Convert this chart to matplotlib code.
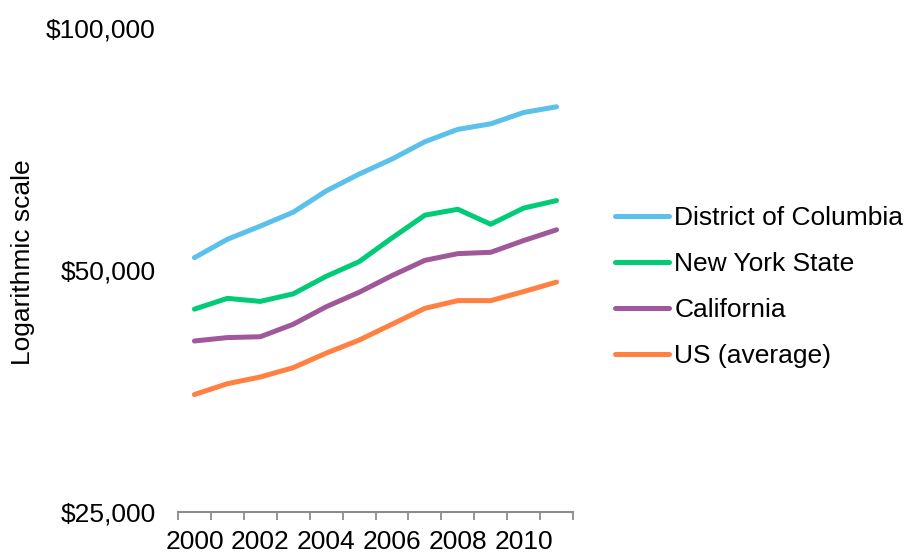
import matplotlib
matplotlib.use("Agg")
import matplotlib.pyplot as plt
from matplotlib.ticker import FixedLocator, NullFormatter

plt.rcParams['font.family'] = ['Liberation Sans', 'DejaVu Sans']

# median household income, nominal dollars
years = list(range(2000, 2012))
dc = [51800, 54600, 56700, 59000, 62700, 65800, 68700, 72200, 74800, 76000, 78500, 79800]
ny = [44700, 46100, 45700, 46700, 49100, 51200, 54800, 58500, 59500, 57000, 59700, 61000]
ca = [40800, 41200, 41300, 42800, 45000, 46900, 49200, 51400, 52400, 52600, 54400, 56100]
us = [35000, 36100, 36800, 37800, 39400, 40900, 42800, 44800, 45800, 45800, 47000, 48300]

series = [
    ("District of Columbia", dc, "#5BC0EA"),
    ("New York State", ny, "#00CC77"),
    ("California", ca, "#A0589A"),
    ("US (average)", us, "#FF8040"),
]

y_ticks = [25000, 50000, 100000]
y_labels = ["$25,000", "$50,000", "$100,000"]

FS = 19

fig = plt.figure(figsize=(9.09, 5.57), dpi=100)
W, H = 909, 557
ax = fig.add_axes([178 / W, 1 - 512 / H, (573 - 178) / W, (512 - 28) / H])

x = list(range(len(years)))
for name, vals, color in series:
    ax.plot(x, vals, color=color, lw=3.6, solid_capstyle='round',
            solid_joinstyle='round', label=name)

ax.set_yscale('log')
ax.set_ylim(25000, 100000)
ax.set_yticks(y_ticks)
ax.set_yticklabels(y_labels)
ax.yaxis.set_minor_locator(FixedLocator([]))
ax.tick_params(axis='y', which='both', length=0, pad=16, labelsize=FS)

# category axis: boundary ticks between years, labels every other year
ax.set_xlim(-0.5, len(years) - 0.5)
ax.set_xticks(x[::2])
ax.set_xticklabels([str(y) for y in years[::2]])
ax.xaxis.set_minor_locator(FixedLocator([i - 0.5 for i in range(len(years) + 1)]))
ax.xaxis.set_minor_formatter(NullFormatter())
ax.tick_params(axis='x', which='major', length=0, pad=13, labelsize=FS)
ax.tick_params(axis='x', which='minor', length=6, width=1.3, color='#8C8C8C',
               direction='out')

for side in ['top', 'right', 'left']:
    ax.spines[side].set_visible(False)
ax.spines['bottom'].set_color('#8C8C8C')
ax.spines['bottom'].set_linewidth(1.5)

fig.text(23 / W, 1 - 262 / H, "Logarithmic scale", rotation=90,
         ha='center', va='center', fontsize=FS)

fig.legend(loc='center left', bbox_to_anchor=(615 / W, 1 - 287 / H),
           frameon=False, fontsize=FS, handlelength=2.05, handletextpad=0.2,
           labelspacing=0.83, borderpad=0, borderaxespad=0)

fig.savefig("out.png", dpi=100)
